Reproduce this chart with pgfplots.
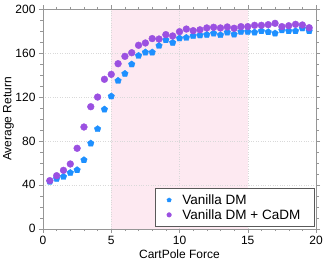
\documentclass[border=0pt]{standalone}
\usepackage{pgfplots}
\pgfplotsset{compat=1.18}
\usepackage{fontspec}
\setmainfont{Liberation Sans}
\usetikzlibrary{plotmarks}
\definecolor{cblue}{RGB}{30,144,255}
\definecolor{cpurple}{RGB}{155,80,225}
\definecolor{cpink}{RGB}{253,233,241}
\definecolor{axgray}{RGB}{150,150,150}
\begin{document}
\begin{tikzpicture}
\begin{axis}[
  set layers,
  scale only axis, width=273bp, height=219.4bp,
  at={(0,0)}, anchor=south west,
  xmin=0, xmax=20, ymin=0, ymax=200,
  xtick={0,5,10,15,20}, ytick={0,40,80,120,160,200},
  minor x tick num=4, minor y tick num=3,
  tick align=outside, major tick length=4bp, minor tick length=2.5bp,
  every tick/.style={axgray},
  axis line style={axgray},
  grid=major, major grid style={dotted, black!15},
  ticklabel style={font=\fontsize{12bp}{14bp}\selectfont},
  /pgf/number format/assume math mode=true,
  xlabel={CartPole Force}, ylabel={Average Return},
  label style={font=\fontsize{12bp}{14bp}\selectfont},
  xlabel style={at={(axis description cs:0.5,-0.1185)}, anchor=center},
  ylabel style={at={(axis description cs:-0.126,0.5)}, anchor=center},
  legend style={at={(1,0)}, anchor=south east, xshift=-1.5bp, yshift=2bp,
    draw=black!65, fill=white, font=\fontsize{13.5bp}{15.6bp}\selectfont,
    inner xsep=12bp, inner ysep=4bp, row sep=-0.5bp,
    /tikz/every odd column/.style={column sep=9bp}},
  legend cell align=left,
  legend image post style={mark size=2.3bp},
]
\addplot[fill=cpink, draw=none, forget plot, on layer=axis background]
  coordinates {(5,200) (15,200)} \closedcycle;
\addplot[only marks, mark=pentagon*, mark size=3.4bp, color=cblue, mark options={fill=cblue, draw=cblue}]
coordinates {
(0.5,43) (1.0,45.6) (1.5,47.4) (2.0,51) (2.5,53.5) (3.0,62.6) (3.5,77.8)
(4.0,90.9) (4.5,108.8) (5.0,120.7) (5.5,134.9) (6.0,141.3) (6.5,149.9)
(7.0,157.7) (7.5,160.8) (8.0,160.8) (8.5,166.8) (9.0,172) (9.5,169.6)
(10.0,173.6) (10.5,174.1) (11.0,175.7) (11.5,176.3) (12.0,176.9) (12.5,178.1)
(13.0,176.6) (13.5,179) (14.0,177.2) (14.5,179.6) (15.0,179.6) (15.5,179)
(16.0,180.2) (16.5,179.3) (17.0,178.1) (17.5,181) (18.0,180.2) (18.5,180.2)
(19.0,182.7) (19.5,180.2)
};
\addlegendentry{Vanilla DM}
\addplot[only marks, mark=*, mark size=3.4bp, color=cpurple, mark options={fill=cpurple, draw=cpurple}]
coordinates {
(0.5,43.8) (1.0,48.3) (1.5,53.2) (2.0,59) (2.5,73.3) (3.0,92.7) (3.5,111.2)
(4.0,120) (4.5,136.2) (5.0,140.7) (5.5,150.4) (6.0,157.1) (6.5,160.4)
(7.0,167.2) (7.5,169.3) (8.0,173.3) (8.5,172.9) (9.0,176.9) (9.5,175.7)
(10.0,179.6) (10.5,182) (11.0,180.5) (11.5,181.3) (12.0,183) (12.5,183.6)
(13.0,183) (13.5,183.9) (14.0,182.7) (14.5,184.2) (15.0,184.2) (15.5,185.4)
(16.0,185.4) (16.5,186) (17.0,187.2) (17.5,184.2) (18.0,185) (18.5,186.3)
(19.0,185.7) (19.5,183.2)
};
\addlegendentry{Vanilla DM + CaDM}
\end{axis}
\pgfresetboundingbox
\path (-43bp,-37.3bp) rectangle (289bp,228.7bp);
\end{tikzpicture}
\end{document}
